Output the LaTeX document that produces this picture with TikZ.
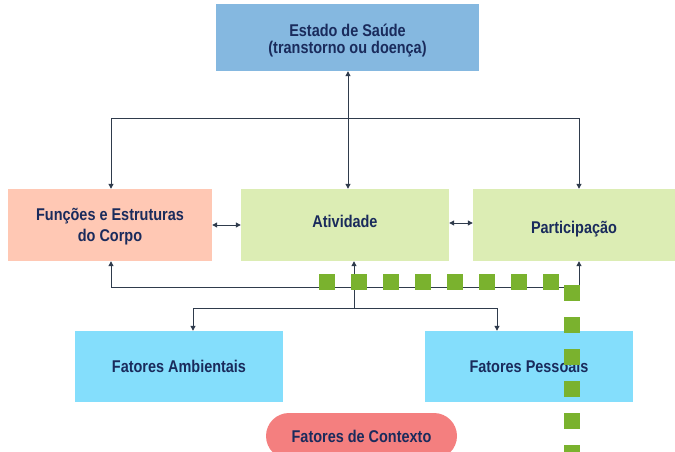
\documentclass[tikz,border=0pt]{standalone}
\usepackage{fontspec}
\setmainfont[FakeStretch=0.85]{Liberation Sans}
\usetikzlibrary{arrows.meta}
\definecolor{txt}{HTML}{1A2B5C}
\definecolor{ln}{HTML}{2F3B4C}
\definecolor{cestado}{HTML}{85B8E0}
\definecolor{cfunc}{HTML}{FFC8B4}
\definecolor{cativ}{HTML}{DCEDB4}
\definecolor{cfat}{HTML}{84DEFC}
\definecolor{cpill}{HTML}{F47F7F}
\definecolor{cgreen}{HTML}{7AB22E}
\newcommand{\shiftv}[2]{\raisebox{#1}[\height][\depth]{#2}}
\begin{document}
\begin{tikzpicture}[x=1pt,y=-1pt,
  box/.style={rectangle, inner sep=0pt, align=center, text=txt,
    font=\bfseries\fontsize{17}{20}\selectfont},
  conn/.style={draw=ln, line width=1pt, -{Triangle[length=5pt,width=5pt]}},
  biconn/.style={draw=ln, line width=1pt, {Triangle[length=5pt,width=5pt]}-{Triangle[length=5pt,width=5pt]}},
  greendash/.style={draw=cgreen, line width=16pt, dash pattern=on 16pt off 16pt}]
\useasboundingbox (0,0) rectangle (675,451);
\clip (0,0) rectangle (675,451);
% boxes
\node[box, fill=cestado, minimum width=263pt, minimum height=67pt] (estado) at (347.5,37.5) {\shiftv{-3pt}{\shortstack{Estado de Saúde\\[2pt](transtorno ou doença)}}};
\node[box, fill=cfunc, minimum width=204pt, minimum height=72pt] (func) at (110,225) {\shiftv{-1.5pt}{\shortstack{Funções e Estruturas\\[2pt]do Corpo}}};
\node[box, fill=cativ, minimum width=208pt, minimum height=72pt] (ativ) at (345,225) {\shiftv{4pt}{Atividade}};
\node[box, fill=cativ, minimum width=202pt, minimum height=72pt] (part) at (574,225) {\shiftv{-4pt}{Participação}};
\node[box, fill=cfat, minimum width=208pt, minimum height=71pt] (amb) at (179,366.5) {Fatores Ambientais};
\node[box, fill=cfat, minimum width=208pt, minimum height=71pt] (pess) at (529,366.5) {Fatores Pessoais};
\node[box, fill=cpill, minimum width=191pt, minimum height=46pt, rounded corners=23pt] (ctx) at (361.5,436) {Fatores de Contexto};
% coordinates
\coordinate (top) at (348,118);
\coordinate (mid) at (354,287);
\coordinate (low) at (354,308);
% connectors
\draw[biconn] (estado.south -| top) -- (ativ.north -| top);
\draw[conn] (top) -| ([xshift=1pt]func.north);
\draw[conn] (top) -| ([xshift=5pt]part.north);
\draw[biconn] (func.east) -- (ativ.west);
\draw[biconn] ([yshift=2pt]ativ.east) -- ([yshift=2pt]part.west);
\draw[conn] (mid) -| ([xshift=1pt]func.south);
\draw[conn] (mid) -| ([xshift=5pt]part.south);
\draw[conn] (low) -- (low |- ativ.south);
\draw[conn] (low) -| ([xshift=14pt]amb.north);
\draw[conn] (low) -| ([xshift=-32pt]pess.north);
% green dashed marker
\coordinate (g1) at (319,282);
\coordinate (g2) at (564,282);
\coordinate (g3) at (572,285);
\coordinate (g4) at (572,470);
\draw[greendash] (g1) -- (g2);
\draw[greendash] (g3) -- (g4);
\end{tikzpicture}
\end{document}
